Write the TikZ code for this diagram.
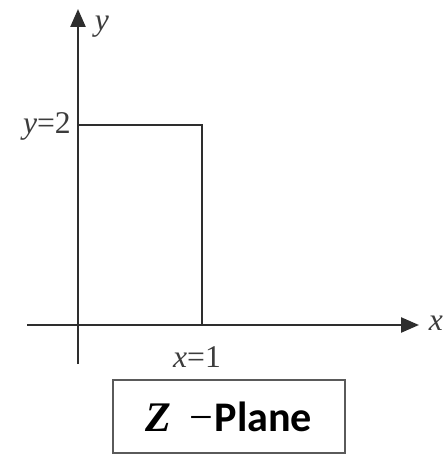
\documentclass[tikz,border=0pt]{standalone}
\usepackage{fontspec}
\setmainfont{Liberation Serif}
\newfontfamily\planefont{Carlito}
\usetikzlibrary{positioning,arrows.meta}
\definecolor{trazo}{HTML}{2E2E2E}
\definecolor{rotulo}{HTML}{3C3C3C}
\definecolor{marco}{HTML}{5A5A5A}

\begin{document}
\begin{tikzpicture}[x=0.02cm, y=-0.02cm, line width=1.4pt,
    eje/.style={trazo, -{Triangle[length=0.36cm, width=0.3cm]}},
    rotulo/.style={text=rotulo, font=\fontsize{18}{20}\selectfont, inner sep=0pt}]
  \useasboundingbox (0,0) rectangle (444,456);
  % ejes
  \coordinate (x0) at (27,325);
  \coordinate (x1) at (419,325);
  \coordinate (y0) at (78,364);
  \coordinate (y1) at (78,9);
  \draw[eje] (x0) -- (x1);
  \draw[eje] (y0) -- (y1);
  \node[rotulo] (xl) at (436,323) {\textit{x}};
  \node[rotulo] (yl) at (102,27) {\textit{y}};
  % region
  \coordinate (r1) at (78,125);
  \coordinate (r2) at (202,125);
  \coordinate (r3) at (202,325);
  \draw[trazo] (r1) -- (r2) -- (r3);
  \node[rotulo, anchor=east] (ly) at (72,126) {\textit{y}=2};
  \node[rotulo] (lx) at (197,357) {\textit{x}=1};
  % plano
  \node[draw=marco, line width=1pt, minimum width=4.64cm, minimum height=1.46cm,
        font=\fontsize{24}{26}\selectfont] (plano) at (229,416.5)
        {\textbf{\textit{Z}}\hspace{10pt}−\hspace{1pt}{\planefont\bfseries Plane}};
\end{tikzpicture}
\end{document}
